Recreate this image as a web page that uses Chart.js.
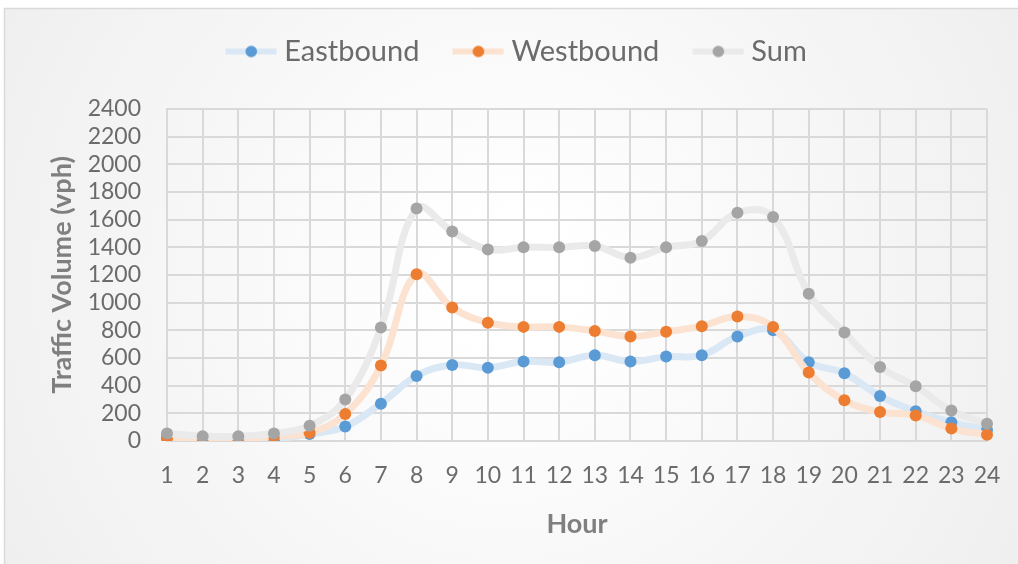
<!DOCTYPE html>
<html>
<head>
<meta charset="utf-8">
<script src="https://cdn.jsdelivr.net/npm/chart.js@4.4.0/dist/chart.umd.min.js"></script>
<style>
  html, body { margin: 0; padding: 0; background: #fff; }
</style>
</head>
<body>
<canvas id="chart" width="1018" height="564"></canvas>
<script>
'use strict'

const hours = ['1', '2', '3', '4', '5', '6', '7', '8', '9', '10', '11', '12',
    '13', '14', '15', '16', '17', '18', '19', '20', '21', '22', '23', '24'];
const eastbound = [25, 10, 10, 15, 50, 105, 270, 470, 550, 530, 575, 570,
    620, 575, 610, 620, 755, 800, 570, 490, 325, 215, 135, 80];
const westbound = [20, 15, 15, 35, 60, 195, 545, 1205, 965, 855, 825, 825,
    795, 755, 790, 830, 900, 825, 495, 295, 210, 185, 90, 45];
const sum = [55, 35, 35, 55, 110, 300, 820, 1680, 1515, 1385, 1400, 1400,
    1410, 1325, 1400, 1445, 1650, 1620, 1065, 785, 535, 395, 220, 125];
const yTicks = [0, 200, 400, 600, 800, 1000, 1200, 1400, 1600, 1800, 2000, 2200, 2400];

const fontName = 'Lato, "Open Sans", sans-serif';
const textColor = '#6b6b6b';
const titleColor = '#7f7f7f';

// small legend marker: faded line with a dot, drawn a little right of centre
function legendIcon(lineColor, dotColor) {
    const c = document.createElement('canvas');
    c.width = 60;
    c.height = 14;
    const ctx = c.getContext('2d');
    ctx.fillStyle = lineColor;
    ctx.fillRect(8.5, 4, 51, 6);
    ctx.fillStyle = dotColor;
    ctx.beginPath();
    ctx.arc(34.25, 7, 5.8, 0, Math.PI * 2);
    ctx.fill();
    return c;
}

const series = [
    { label: 'Eastbound', data: eastbound, line: '#dae7f4', dot: '#5b9bd5', order: 3 },
    { label: 'Westbound', data: westbound, line: '#fbe2d1', dot: '#ed7d31', order: 2 },
    { label: 'Sum', data: sum, line: '#eaeaea', dot: '#a5a5a5', order: 1 }
];

const background = {
    id: 'background',
    beforeInit(chart) {
        // leave extra room between legend and plot
        const legend = chart.legend;
        const fit = legend.fit;
        legend.fit = function () {
            fit.call(legend);
            this.height += 33;
        };
        const draw = legend.draw;
        legend.draw = function () {
            chart.ctx.save();
            chart.ctx.translate(-1, 0);
            draw.call(legend);
            chart.ctx.restore();
        };
    },
    beforeDraw(chart) {
        const ctx = chart.ctx;
        const w = chart.width, h = chart.height;
        ctx.save();
        const g = ctx.createRadialGradient(w / 2, h / 2, 60, w / 2, h / 2, w * 0.6);
        g.addColorStop(0, '#ffffff');
        g.addColorStop(1, '#eeeeee');
        ctx.fillStyle = g;
        ctx.fillRect(0, 0, w, h);
        ctx.fillStyle = '#ffffff';
        ctx.fillRect(0, 0, w, 8);
        ctx.fillRect(0, 0, 4, h);
        ctx.strokeStyle = '#d9d9d9';
        ctx.lineWidth = 1.5;
        ctx.strokeRect(4.5, 8.5, w + 10, h + 10);
        ctx.restore();
    }
};

const chart = new Chart(document.getElementById('chart'), {
    type: 'line',
    data: {
        labels: hours,
        datasets: series.map(s => ({
            label: s.label,
            data: s.data,
            order: s.order,
            borderColor: s.line,
            borderWidth: 7,
            backgroundColor: s.dot,
            pointBackgroundColor: s.dot,
            pointBorderColor: s.dot,
            pointRadius: 6,
            pointBorderWidth: 0,
            tension: 0.4,
            fill: false
        }))
    },
    options: {
        responsive: false,
        animation: false,
        layout: { padding: { left: 46, right: 31, top: 5, bottom: 24 } },
        plugins: {
            tooltip: { enabled: false },
            legend: {
                position: 'top',
                labels: {
                    usePointStyle: true,
                    pointStyleWidth: 45.5,
                    padding: 32,
                    color: textColor,
                    font: { family: fontName, size: 29 },
                    sort: (a, b) => a.datasetIndex - b.datasetIndex,
                    generateLabels(chart) {
                        return series.map((s, i) => ({
                            text: s.label,
                            datasetIndex: i,
                            fontColor: textColor,
                            pointStyle: legendIcon(s.line, s.dot),
                            lineWidth: 0,
                            hidden: false
                        }));
                    }
                }
            }
        },
        scales: {
            x: {
                offset: false,
                afterFit(axis) {
                    axis.height = 99;
                    axis.paddingRight = 0;
                },
                grid: { color: '#d9d9d9', lineWidth: 2, drawTicks: false },
                border: { color: '#d9d9d9', width: 2 },
                ticks: {
                    color: textColor,
                    font: { family: fontName, size: 23 },
                    padding: 21,
                    maxRotation: 0,
                    autoSkip: false
                },
                title: {
                    display: true,
                    text: 'Hour',
                    color: titleColor,
                    font: { family: fontName, size: 27, weight: 'bold' },
                    padding: { top: 0, bottom: 0 }
                }
            },
            y: {
                min: yTicks[0],
                max: yTicks[yTicks.length - 1],
                afterBuildTicks(axis) {
                    axis.ticks = yTicks.map(v => ({ value: v }));
                },
                afterFit(axis) {
                    axis.width = 121;
                },
                grid: { color: '#d9d9d9', lineWidth: 2, drawTicks: false },
                border: { color: '#d9d9d9', width: 2 },
                ticks: {
                    color: textColor,
                    font: { family: fontName, size: 23 },
                    padding: 26,
                    autoSkip: false,
                    callback: value => String(value)
                },
                title: {
                    display: true,
                    text: 'Traffic Volume (vph)',
                    color: titleColor,
                    font: { family: fontName, size: 27, weight: 'bold' },
                    padding: { top: 0, bottom: 0 }
                }
            }
        }
    },
    plugins: [background]
});
</script>
</body>
</html>
